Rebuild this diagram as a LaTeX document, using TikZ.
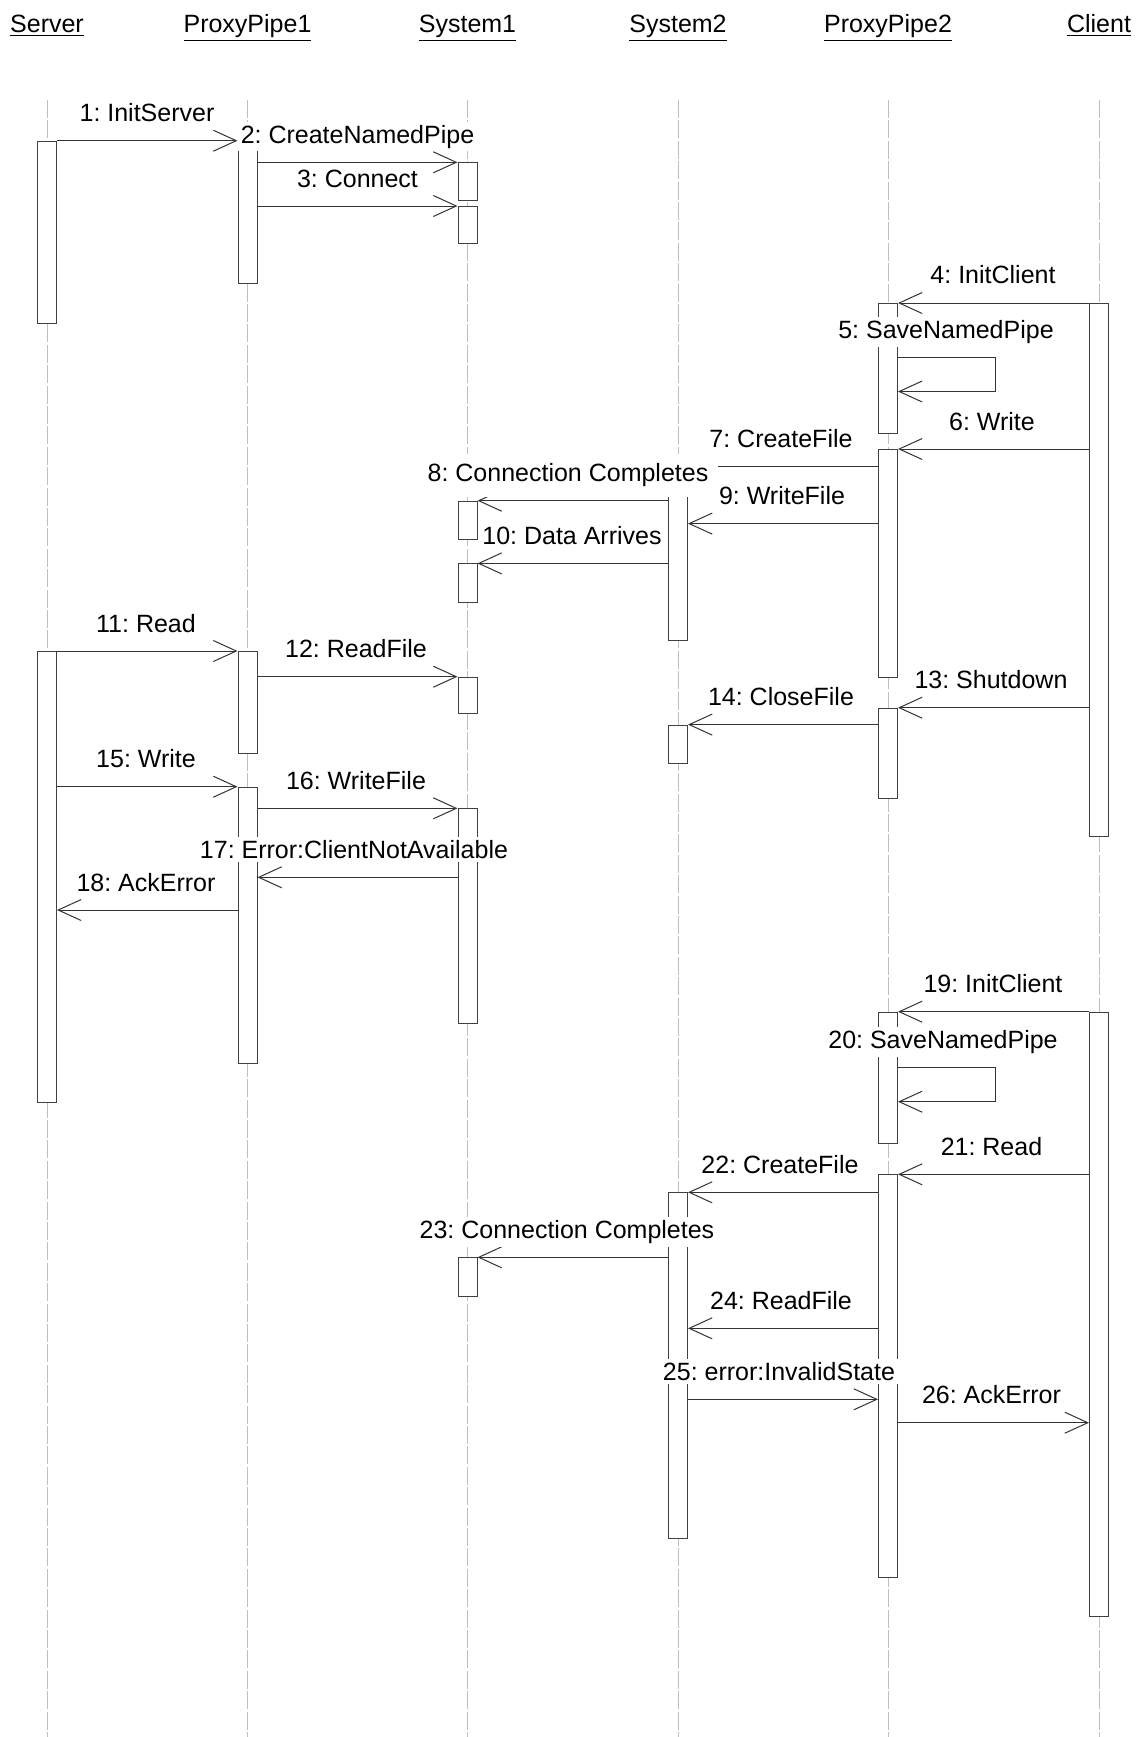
\documentclass[tikz,border=0pt]{standalone}
\usepackage{fontspec}
\setmainfont{Liberation Sans}
\usetikzlibrary{arrows.meta}
\frenchspacing

\tikzset{
    life/.style={gray!50, line width=0.35pt, dash pattern=on 9pt off 1.2pt},
    act/.style={draw=black!75, fill=white, line width=0.5pt, minimum width=9.5pt, inner sep=0pt, anchor=north},
    msg/.style={draw=black!80, line width=0.5pt, -{Straight Barb[length=11.5pt,width=10.5pt]}},
    lbl/.style={fill=white, inner xsep=1.5pt, inner ysep=1.5pt, anchor=base},
    head/.style={anchor=base}
}
\newcommand{\actbox}[4]{\node[act, minimum height={(#4-#3)*0.5pt}] (#1) at (#2,#3) {};}

\begin{document}
\begin{tikzpicture}[x=0.5pt,y=-0.5pt,font=\fontsize{12.5}{15}\selectfont]
    \useasboundingbox (0,0) rectangle (1142,1737);

    % Objects
    \node[head] (server) at (47,32) {\underline{Server}};
    \node[head] (pp1) at (247.5,32) {\underline{ProxyPipe1}};
    \node[head] (sys1) at (467.5,32) {\underline{System1}};
    \node[head] (sys2) at (678,32) {\underline{System2}};
    \node[head] (pp2) at (888,32) {\underline{ProxyPipe2}};
    \node[head] (client) at (1099,32) {\underline{Client}};

    % Lifelines
    \coordinate (top) at (0,100);
    \coordinate (bottom) at (0,1737);
    \foreach \o in {server,pp1,sys1,sys2,pp2,client}
        \draw[life] (\o |- top) -- (\o |- bottom);

    % Activations
    \actbox{srv1}{47}{140.7}{322.5}
    \actbox{srv2}{47}{651}{1102}
    \actbox{pp1a}{247.5}{140.7}{283}
    \actbox{pp1b}{247.5}{651}{753.3}
    \actbox{pp1c}{247.5}{786.7}{1062.7}
    \actbox{s1a}{467.5}{162.3}{200}
    \actbox{s1b}{467.5}{206}{243.3}
    \actbox{s1c}{467.5}{500.7}{539.4}
    \actbox{s1d}{467.5}{563.4}{602}
    \actbox{s1e}{467.5}{676.7}{713.3}
    \actbox{s1f}{467.5}{808.3}{1023.3}
    \actbox{s1g}{467.5}{1257.3}{1295.7}
    \actbox{s2a}{678}{466.5}{640}
    \actbox{s2b}{678}{724.6}{763.4}
    \actbox{s2c}{678}{1192.3}{1538}
    \actbox{pp2a}{888}{303}{433}
    \actbox{pp2b}{888}{449}{677}
    \actbox{pp2c}{888}{707.7}{797.5}
    \actbox{pp2d}{888}{1011.7}{1143.3}
    \actbox{pp2e}{888}{1174.3}{1577}
    \actbox{cl1}{1099}{303}{836}
    \actbox{cl2}{1099}{1011.7}{1616}

    % Messages
    \coordinate (m5a) at (995,357.4);
    \coordinate (m5b) at (995,391.5);
    \coordinate (m9) at (0,523.6);
    \coordinate (m17) at (0,877.3);
    \coordinate (m18) at (0,910);
    \coordinate (m20a) at (995,1067.3);
    \coordinate (m20b) at (995,1101.7);
    \coordinate (m24) at (0,1328.3);
    \coordinate (m25) at (0,1399.3);
    \coordinate (m26) at (0,1422.7);

    \draw[msg] (srv1.north east) -- (pp1a.north west);
    \draw[msg] (pp1a.east |- s1a.north) -- (s1a.north west);
    \draw[msg] (pp1a.east |- s1b.north) -- (s1b.north west);
    \draw[msg] (cl1.north west) -- (pp2a.north east);
    \draw[msg] (pp2a.east |- m5a) -- (m5a) -- (m5b) -- (pp2a.east |- m5b);
    \draw[msg] (cl1.west |- pp2b.north) -- (pp2b.north east);
    \draw[msg] (pp2b.west |- s2a.north) -- (s2a.north east);
    \draw[msg] (s2a.west |- s1c.north) -- (s1c.north east);
    \draw[msg] (pp2b.west |- m9) -- (s2a.east |- m9);
    \draw[msg] (s2a.west |- s1d.north) -- (s1d.north east);
    \draw[msg] (srv2.north east) -- (pp1b.north west);
    \draw[msg] (pp1b.east |- s1e.north) -- (s1e.north west);
    \draw[msg] (cl1.west |- pp2c.north) -- (pp2c.north east);
    \draw[msg] (pp2c.west |- s2b.north) -- (s2b.north east);
    \draw[msg] (srv2.east |- pp1c.north) -- (pp1c.north west);
    \draw[msg] (pp1c.east |- s1f.north) -- (s1f.north west);
    \draw[msg] (s1f.west |- m17) -- (pp1c.east |- m17);
    \draw[msg] (pp1c.west |- m18) -- (srv2.east |- m18);
    \draw[msg] (cl2.north west) -- (pp2d.north east);
    \draw[msg] (pp2d.east |- m20a) -- (m20a) -- (m20b) -- (pp2d.east |- m20b);
    \draw[msg] (cl2.west |- pp2e.north) -- (pp2e.north east);
    \draw[msg] (pp2e.west |- s2c.north) -- (s2c.north east);
    \draw[msg] (s2c.west |- s1g.north) -- (s1g.north east);
    \draw[msg] (pp2e.west |- m24) -- (s2c.east |- m24);
    \draw[msg] (s2c.east |- m25) -- (pp2e.west |- m25);
    \draw[msg] (pp2e.east |- m26) -- (cl2.west |- m26);

    % Labels
    \node[lbl] (l1) at (147,121.7) {1: InitServer};
    \node[lbl] (l2) at (357.5,143.3) {2: CreateNamedPipe};
    \node[lbl] (l3) at (357.5,187) {3: Connect};
    \node[lbl] (l4) at (993,283.8) {4: InitClient};
    \node[lbl] (l5) at (946,338.4) {5: SaveNamedPipe};
    \node[lbl] (l6) at (992,430) {6: Write};
    \node[lbl] (l7) at (781,447.5) {7: CreateFile};
    \node[lbl, inner xsep=5pt, inner ysep=5pt] (l8) at (568,481.7) {8: Connection Completes};
    \node[lbl] (l9) at (782,504.6) {9: WriteFile};
    \node[lbl] (l10) at (572,544.4) {10: Data Arrives};
    \node[lbl] (l11) at (146,632) {11: Read};
    \node[lbl] (l12) at (356,657.7) {12: ReadFile};
    \node[lbl] (l13) at (991,688.7) {13: Shutdown};
    \node[lbl] (l14) at (781,705.6) {14: CloseFile};
    \node[lbl] (l15) at (146,767.7) {15: Write};
    \node[lbl] (l16) at (356,789.3) {16: WriteFile};
    \node[lbl] (l17) at (354,858.3) {17: Error:ClientNotAvailable};
    \node[lbl] (l18) at (146,891) {18: AckError};
    \node[lbl] (l19) at (993,992.7) {19: InitClient};
    \node[lbl] (l20) at (943,1048.3) {20: SaveNamedPipe};
    \node[lbl] (l21) at (991.5,1155.3) {21: Read};
    \node[lbl] (l22) at (780,1173.3) {22: CreateFile};
    \node[lbl] (l23) at (567,1238.3) {23: Connection Completes};
    \node[lbl] (l24) at (781,1309.3) {24: ReadFile};
    \node[lbl] (l25) at (779,1380.3) {25: error:InvalidState};
    \node[lbl] (l26) at (991.5,1403.7) {26: AckError};

\end{tikzpicture}
\end{document}
